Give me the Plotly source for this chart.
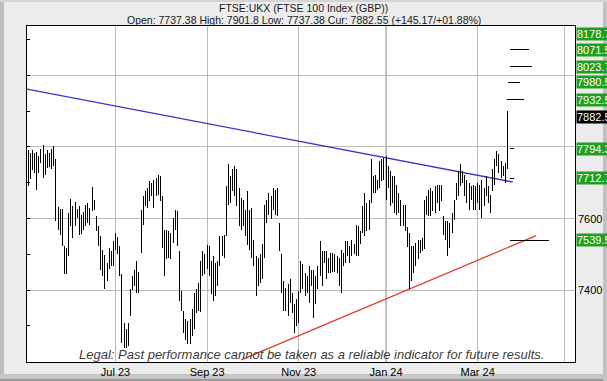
import pandas as pd
import plotly.graph_objects as go

# ---------------- data ----------------
holidays = ["2023-05-08", "2023-05-29", "2023-08-28", "2023-12-25", "2023-12-26",
            "2024-01-01", "2024-03-29", "2024-04-01", "2024-05-06"]

high_may = [7792, 7782, 7792, 7783, 7785, 7774, 7794, 7806, 7781, 7791, 7783, 7794, 7802, 7765, 7632, 7627, 7627, 7523, 7518]
low_may = [7690, 7711, 7735, 7727, 7681, 7727, 7755, 7713, 7723, 7741, 7744, 7737, 7746, 7592, 7569, 7555, 7523, 7444, 7444]
high_jun = [7616, 7655, 7636, 7645, 7627, 7634, 7611, 7618, 7639, 7642, 7630, 7688, 7651, 7608, 7578, 7550, 7513, 7497, 7476, 7518, 7509, 7537]
low_jun = [7495, 7579, 7546, 7579, 7602, 7555, 7558, 7569, 7579, 7588, 7583, 7620, 7625, 7565, 7523, 7457, 7439, 7402, 7425, 7458, 7467, 7467]
high_jul = [7560, 7549, 7523, 7444, 7309, 7290, 7309, 7402, 7440, 7457, 7481, 7450, 7625, 7662, 7676, 7685, 7704, 7699, 7709, 7713, 7723]
low_jul = [7513, 7500, 7439, 7253, 7239, 7239, 7245, 7327, 7400, 7411, 7392, 7392, 7504, 7583, 7634, 7630, 7648, 7662, 7630, 7662, 7667]
high_aug = [7718, 7662, 7569, 7569, 7565, 7560, 7602, 7625, 7620, 7509, 7397, 7341, 7320, 7313, 7318, 7346, 7392, 7402, 7420, 7480, 7509, 7500]
low_aug = [7648, 7518, 7439, 7486, 7490, 7486, 7532, 7569, 7523, 7369, 7341, 7281, 7260, 7250, 7248, 7271, 7290, 7337, 7341, 7340, 7439, 7445]
high_sep = [7527, 7523, 7481, 7495, 7476, 7481, 7551, 7551, 7555, 7690, 7751, 7718, 7737, 7748, 7738, 7686, 7658, 7653, 7625, 7676, 7625]
low_sep = [7458, 7439, 7388, 7369, 7383, 7411, 7467, 7495, 7490, 7551, 7639, 7644, 7676, 7662, 7634, 7579, 7569, 7579, 7551, 7527, 7513]
high_oct = [7630, 7541, 7495, 7490, 7500, 7530, 7639, 7653, 7672, 7662, 7686, 7680, 7686, 7588, 7500, 7425, 7406, 7416, 7430, 7393, 7360, 7374]
low_oct = [7490, 7467, 7383, 7411, 7420, 7430, 7490, 7588, 7611, 7600, 7625, 7610, 7606, 7509, 7392, 7341, 7341, 7327, 7365, 7337, 7281, 7300]
high_nov = [7397, 7481, 7472, 7448, 7439, 7467, 7457, 7457, 7439, 7467, 7537, 7509, 7509, 7509, 7490, 7504, 7504, 7500, 7495, 7490, 7513, 7504]
low_nov = [7309, 7393, 7402, 7383, 7393, 7365, 7411, 7323, 7360, 7402, 7439, 7411, 7476, 7430, 7448, 7448, 7450, 7450, 7448, 7411, 7393, 7467]
high_dec = [7537, 7537, 7523, 7541, 7530, 7583, 7579, 7565, 7634, 7672, 7644, 7653, 7765, 7718, 7723, 7709, 7760, 7765, 7769]
low_dec = [7476, 7495, 7476, 7495, 7500, 7495, 7495, 7530, 7560, 7551, 7565, 7569, 7644, 7672, 7672, 7681, 7686, 7704, 7709]
high_jan = [7774, 7746, 7732, 7718, 7718, 7695, 7672, 7653, 7639, 7639, 7575, 7560, 7523, 7523, 7532, 7541, 7541, 7546, 7653, 7662, 7681, 7686]
low_jan = [7653, 7686, 7634, 7644, 7616, 7611, 7616, 7579, 7579, 7565, 7520, 7402, 7425, 7448, 7467, 7486, 7504, 7509, 7514, 7611, 7606, 7606]
high_feb = [7676, 7690, 7695, 7695, 7695, 7606, 7593, 7593, 7588, 7616, 7653, 7700, 7732, 7751, 7732, 7723, 7709, 7700, 7690, 7695, 7690]
low_feb = [7620, 7616, 7644, 7620, 7648, 7555, 7541, 7495, 7518, 7560, 7597, 7653, 7662, 7690, 7700, 7662, 7644, 7625, 7653, 7625, 7625]
high_mar = [7700, 7695, 7709, 7686, 7718, 7690, 7667, 7737, 7765, 7788, 7779, 7760, 7746, 7755, 7901.8]
low_mar = [7644, 7625, 7602, 7634, 7662, 7644, 7616, 7676, 7695, 7746, 7727, 7713, 7718, 7700, 7737.38]

highs = high_may + high_jun + high_jul + high_aug + high_sep + high_oct + high_nov + high_dec + high_jan + high_feb + high_mar
lows = low_may + low_jun + low_jul + low_aug + low_sep + low_oct + low_nov + low_dec + low_jan + low_feb + low_mar
dates = list(pd.bdate_range("2023-05-03", "2024-03-21", freq="C", holidays=holidays))

tick_dates = ["2023-07-03", "2023-09-01", "2023-11-01", "2024-01-02", "2024-03-01", "2024-05-01"]
tick_labels = ["Jul 23", "Sep 23", "Nov 23", "Jan 24", "Mar 24", ""]

# trend lines
blue_x = ["2023-05-02 10:00", "2024-03-25 12:00"]
blue_y = [7961.5, 7702]
red_x = ["2023-09-25 00:00", "2024-04-11 10:00"]
red_y = [7205, 7552]

# target levels (short horizontal marks after the last bar)
target_levels = [8071.5, 8023.7, 7980.5, 7932.5, 7794.3, 7712.7, 7539.5]
target_start = ["2024-03-22 05:00", "2024-03-22 05:00", "2024-03-21 07:00", "2024-03-20 19:00",
                "2024-03-22 04:00", "2024-03-22 04:00", "2024-03-22 05:00"]
target_end = ["2024-04-08 02:00", "2024-04-09 10:00", "2024-03-28 22:00", "2024-04-03 17:00",
              "2024-03-25 22:00", "2024-03-25 22:00", "2024-04-19 12:00"]

# right-hand labels
label_values = [8178.7, 8071.5, 8023.7, 7980.5, 7932.5, 7882.55, 7794.3, 7712.7, 7539.5]
label_texts = ["8178.7", "8071.5", "8023.7", "7980.5", "7932.5", "7882.55", "7794.3", "7712.7", "7539.5"]
label_kind = ["t", "t", "t", "t", "t", "cur", "t", "t", "t"]
axis_label_values = [7600, 7400]
axis_label_texts = ["7600", "7400"]

title1 = "FTSE:UKX (FTSE 100 Index (GBP))"
title2 = "Open: 7737.38 High: 7901.8 Low: 7737.38 Cur: 7882.55 (+145.17/+01.88%)"
legal = "Legal: Past performance cannot be taken as a reliable indicator for future results."

# ---------------- figure ----------------
Y_MIN, Y_MAX = 7199, 8138
FONT = "Liberation Sans, Arial, sans-serif"

bx, by = [], []
for d, h, l in zip(dates, highs, lows):
    bx += [d, d, None]
    by += [l, h, None]

tx, ty = [], []
for s, e, v in zip(target_start, target_end, target_levels):
    tx += [s, e, None]
    ty += [v, v, None]

fig = go.Figure()
fig.add_trace(go.Scatter(x=blue_x, y=blue_y, mode="lines", line=dict(color="#3434c8", width=1.3),
                         hoverinfo="skip", showlegend=False))
fig.add_trace(go.Scatter(x=red_x, y=red_y, mode="lines", line=dict(color="#e2402c", width=1.3),
                         hoverinfo="skip", showlegend=False))
fig.add_trace(go.Scatter(x=bx, y=by, mode="lines", line=dict(color="black", width=1),
                         connectgaps=False, showlegend=False))
fig.add_trace(go.Scatter(x=tx, y=ty, mode="lines", line=dict(color="black", width=1),
                         connectgaps=False, hoverinfo="skip", showlegend=False))

annotations = []
for v, t, k in zip(label_values, label_texts, label_kind):
    a = dict(xref="paper", x=1, xanchor="left", xshift=1, text=t, showarrow=False,
             font=dict(family=FONT, size=11, color="white"),
             bgcolor="black" if k == "cur" else "#1f9f1f", borderpad=0, align="left")
    if v > Y_MAX:
        a.update(yref="paper", y=1, yanchor="top", yshift=-1)
    else:
        a.update(yref="y", y=v, yanchor="middle")
    annotations.append(a)
for v, t in zip(axis_label_values, axis_label_texts):
    annotations.append(dict(xref="paper", x=1, xanchor="left", xshift=1, yref="y", y=v,
                            yanchor="middle", text=t, showarrow=False,
                            font=dict(family=FONT, size=11, color="black")))
annotations.append(dict(xref="paper", yref="paper", x=0.5046, y=1.055, text=title1, showarrow=False,
                        xanchor="center", yanchor="middle", font=dict(family=FONT, size=10.5, color="#1a1a1a")))
annotations.append(dict(xref="paper", yref="paper", x=0.5046, y=1.0164, text=title2, showarrow=False,
                        xanchor="center", yanchor="middle", font=dict(family=FONT, size=10.5, color="#1a1a1a")))
annotations.append(dict(xref="paper", yref="paper", x=0.5195, y=0.022, text="<i>" + legal + "</i>",
                        showarrow=False, xanchor="center", yanchor="middle",
                        font=dict(family=FONT, size=13, color="#3c3c3c")))

W, H = 607, 381
L, R, T, B = 27, 32, 26, 19
pw, ph = W - L - R, H - T - B


def px_x(p):
    return (p - L) / pw


def px_y(p):
    return (H - B - p) / ph


shapes = [
    # darker gridline at the start of the year
    dict(type="line", xref="x", yref="paper", x0=tick_dates[3], x1=tick_dates[3], y0=0, y1=1,
         line=dict(color="#8a8a8a", width=1), layer="below"),
    # frame bevel
    dict(type="rect", xref="paper", yref="paper", x0=px_x(0), x1=px_x(4), y0=px_y(381), y1=px_y(0),
         fillcolor="#bdbdbd", line=dict(width=0), layer="below"),
    dict(type="rect", xref="paper", yref="paper", x0=px_x(0), x1=px_x(607), y0=px_y(381), y1=px_y(374),
         fillcolor="#c6c6c6", line=dict(width=0), layer="below"),
    dict(type="rect", xref="paper", yref="paper", x0=px_x(0), x1=px_x(607), y0=px_y(381), y1=px_y(379),
         fillcolor="#9a9a9a", line=dict(width=0), layer="below"),
    dict(type="rect", xref="paper", yref="paper", x0=px_x(603), x1=px_x(607), y0=px_y(381), y1=px_y(0),
         fillcolor="#c2c2c2", line=dict(width=0), layer="below"),
    dict(type="rect", xref="paper", yref="paper", x0=px_x(0), x1=px_x(607), y0=px_y(2), y1=px_y(0),
         fillcolor="#d4d4d4", line=dict(width=0), layer="below"),
]

fig.update_layout(
    width=W, height=H,
    margin=dict(l=L, r=R, t=T, b=B, pad=0, autoexpand=False),
    paper_bgcolor="#ececec", plot_bgcolor="white",
    font=dict(family=FONT, size=11, color="black"),
    showlegend=False,
    annotations=annotations,
    shapes=shapes,
    hovermode=False,
)
fig.update_xaxes(
    type="date", automargin=False,
    range=["2023-05-02 10:30", "2024-05-08 17:00"],
    rangebreaks=[dict(bounds=["sat", "mon"]), dict(values=holidays)],
    tickmode="array", tickvals=tick_dates, ticktext=tick_labels,
    showgrid=True, gridcolor="#b9b9b9", gridwidth=1,
    showline=True, linecolor="black", linewidth=1, mirror=True,
    ticks="", tickfont=dict(family=FONT, size=11, color="black"),
    zeroline=False, fixedrange=True,
)
fig.update_yaxes(
    automargin=False,
    range=[Y_MIN, Y_MAX], tick0=0, dtick=200,
    showgrid=True, gridcolor="#b9b9b9", gridwidth=1,
    showticklabels=False, ticks="inside", ticklen=3, tickcolor="black",
    minor=dict(dtick=100, tick0=0, ticks="inside", ticklen=3, tickcolor="black", showgrid=False),
    showline=True, linecolor="black", linewidth=1, mirror=True,
    zeroline=False, fixedrange=True,
)

post = """
document.body.style.margin='0';
document.body.style.overflow='hidden';
var gd = document.getElementById('{plot_id}');
function crisp() {
  var tr = gd.querySelectorAll('.scatterlayer .trace');
  for (var i = 2; i < tr.length; i++) {
    tr[i].querySelectorAll('path.js-line').forEach(function (p) {
      p.setAttribute('shape-rendering', 'crispEdges');
    });
  }
}
crisp();
if (gd.on) { gd.on('plotly_afterplot', crisp); }
"""

fig.write_html("out.html", config={"displayModeBar": False}, post_script=post)
